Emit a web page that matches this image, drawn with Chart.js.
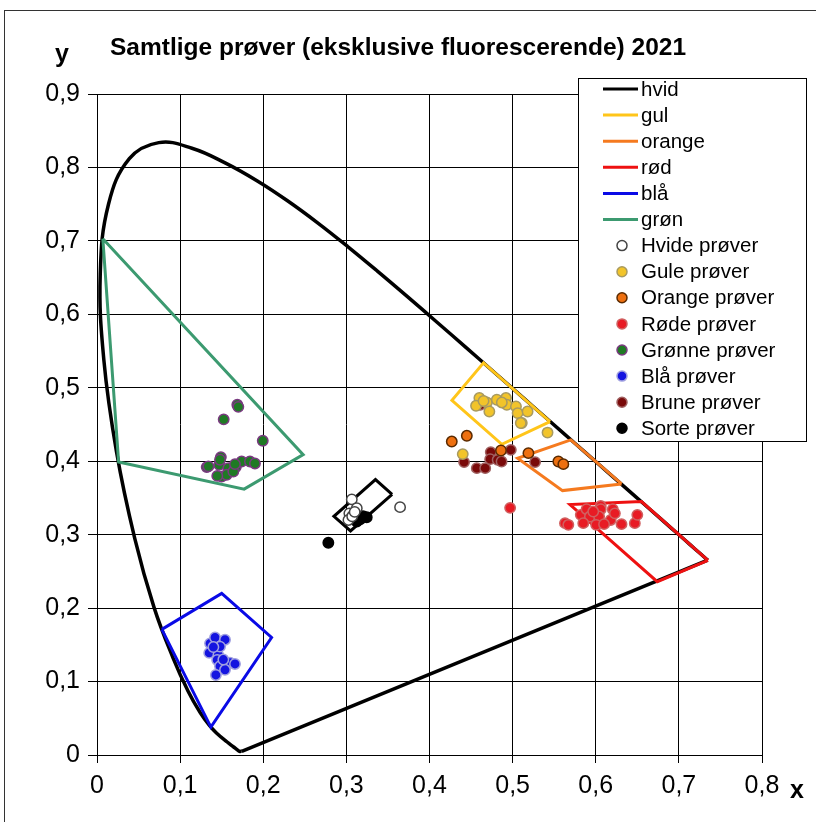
<!DOCTYPE html>
<html><head><meta charset="utf-8">
<script src="https://cdn.jsdelivr.net/npm/chart.js@4.4.1/dist/chart.umd.min.js"></script>
<style>html,body{margin:0;padding:0;background:#fff}#wrap{width:816px;height:822px;position:relative}</style>
</head><body><div id="wrap"><canvas id="c" width="816" height="822"></canvas></div>
<script>
// ---- tick values / labels ----
const xTickValues = [0, 0.1, 0.2, 0.3, 0.4, 0.5, 0.6, 0.7, 0.8];
const xTickLabels = ['0', '0,1', '0,2', '0,3', '0,4', '0,5', '0,6', '0,7', '0,8'];
const yTickValues = [0, 0.1, 0.2, 0.3, 0.4, 0.5, 0.6, 0.7, 0.8, 0.9];
const yTickLabels = ['0', '0,1', '0,2', '0,3', '0,4', '0,5', '0,6', '0,7', '0,8', '0,9'];
const titleText = 'Samtlige prøver (eksklusive fluorescerende) 2021';

// ---- spectral locus (CIE 1931) ----
const locus = [[0.1741,0.0050],[0.1714,0.0051],[0.1689,0.0069],[0.1644,0.0109],[0.1566,0.0177],[0.1440,0.0297],
  [0.1355,0.0399],[0.1241,0.0578],[0.1096,0.0868],[0.0913,0.1327],[0.0687,0.2007],[0.0454,0.2950],[0.0235,0.4127],
  [0.0082,0.5384],[0.0039,0.6548],[0.0139,0.7502],[0.0389,0.8120],[0.0743,0.8338],[0.1142,0.8262],[0.1547,0.8059],
  [0.1929,0.7816],[0.2296,0.7543],[0.2658,0.7243],[0.3016,0.6923],[0.3373,0.6589],[0.3731,0.6245],[0.4087,0.5896],
  [0.4441,0.5547],[0.4788,0.5202],[0.5125,0.4866],[0.5448,0.4544],[0.5752,0.4242],[0.6029,0.3965],[0.6270,0.3725],
  [0.6482,0.3514],[0.6658,0.3340],[0.6915,0.3083],[0.7079,0.2920],[0.7190,0.2809],[0.7260,0.2740],[0.7334,0.2666],
  [0.7347,0.2653]];
const purpleLine = [[0.7347,0.2653],[0.1741,0.0050]];

// ---- colour regions ----
const hvid   = [[0.355,0.355],[0.305,0.305],[0.285,0.325],[0.335,0.375],[0.355,0.355]];
const gul    = [[0.545,0.454],[0.487,0.423],[0.427,0.483],[0.465,0.534],[0.545,0.454]];
const orange = [[0.631,0.369],[0.560,0.360],[0.506,0.404],[0.570,0.429],[0.631,0.369]];
const rod    = [[0.735,0.265],[0.674,0.236],[0.569,0.341],[0.655,0.345],[0.735,0.265]];
const bla    = [[0.078,0.171],[0.150,0.220],[0.210,0.160],[0.137,0.038],[0.078,0.171]];
const gron   = [[0.007,0.703],[0.248,0.409],[0.177,0.362],[0.026,0.399],[0.007,0.703]];

// ---- samples ----
const hvideProver = [[0.3065,0.348],[0.3125,0.336],[0.3036,0.329],[0.3025,0.320],[0.307,0.325],[0.310,0.331],[0.3646,0.3375]];
const guleProver = [[0.460,0.486],[0.456,0.4755],[0.469,0.480],[0.472,0.4677],[0.481,0.4837],[0.492,0.486],[0.493,0.4768],
  [0.504,0.4745],[0.506,0.4655],[0.518,0.4677],[0.511,0.452],[0.542,0.439],[0.440,0.4097],[0.465,0.482],[0.487,0.480],[0.5098,0.452]];
const orangeProver = [[0.4268,0.4268],[0.4449,0.4346],[0.486,0.4146],[0.519,0.411],[0.555,0.3996],[0.561,0.396]];
const rodeProver = [[0.563,0.3157],[0.567,0.3134],[0.582,0.327],[0.589,0.3347],[0.606,0.339],[0.606,0.3347],[0.6205,0.3347],
  [0.593,0.3247],[0.604,0.3247],[0.618,0.320],[0.585,0.3157],[0.6005,0.3134],[0.610,0.3143],[0.631,0.3143],[0.647,0.3157],
  [0.650,0.327],[0.623,0.329],[0.597,0.3315],[0.497,0.3365]];
const gronneProver = [[0.1688,0.4768],[0.1700,0.4740],[0.1524,0.457],[0.1994,0.4278],[0.149,0.4056],[0.132,0.392],[0.134,0.393],
  [0.147,0.395],[0.158,0.3906],[0.167,0.392],[0.174,0.3996],[0.184,0.3996],[0.190,0.397],[0.150,0.379],[0.156,0.3815],
  [0.1447,0.380],[0.164,0.386],[0.148,0.402],[0.166,0.396]];
const blaProver = [[0.136,0.152],[0.142,0.160],[0.154,0.157],[0.135,0.139],[0.146,0.136],[0.1446,0.1294],[0.160,0.1257],
  [0.148,0.121],[0.143,0.109],[0.154,0.116],[0.166,0.124],[0.148,0.1476],[0.140,0.147],[0.152,0.130]];
const bruneProver = [[0.461,0.4768],[0.4416,0.3988],[0.4569,0.3906],[0.467,0.3906],[0.4737,0.4124],[0.473,0.4028],
  [0.482,0.4019],[0.4867,0.3996],[0.4978,0.4155],[0.527,0.3988]];
const sorteProver = [[0.2783,0.289],[0.3245,0.3238],[0.3165,0.321],[0.3125,0.318],[0.320,0.325]];

const pts = a => a.map(p => ({x: p[0], y: p[1]}));
const FONT = '"Liberation Sans", Arial, sans-serif';

function lineDS(label, data, color, order) {
  return {label, data: pts(data), showLine: true, borderColor: color, backgroundColor: color, borderWidth: 3,
    pointRadius: 0, pointHoverRadius: 0, fill: false, tension: 0, order, isLine: true};
}
function ptDS(label, data, fillC, edge) {
  return {label, data: pts(data), showLine: false, backgroundColor: fillC, borderColor: edge, borderWidth: 1.5,
    pointRadius: 5.2, pointBorderWidth: 1.5, order: 0};
}

const datasets = [
  lineDS('hvid', hvid, '#000000', 1),
  lineDS('gul', gul, '#FFC51A', 1),
  lineDS('orange', orange, '#F57A1F', 1),
  lineDS('rød', rod, '#EE1111', 1),
  lineDS('blå', bla, '#0A0AE6', 1),
  lineDS('grøn', gron, '#3C9A70', 1),
  ptDS('Hvide prøver', hvideProver, '#FFFFFF', '#444444'),
  ptDS('Gule prøver', guleProver, '#F2C42A', '#A89A60'),
  ptDS('Orange prøver', orangeProver, '#EE7010', '#5A2A00'),
  ptDS('Røde prøver', rodeProver, '#E81B24', '#D06060'),
  ptDS('Grønne prøver', gronneProver, '#1F7A24', '#7A3A80'),
  ptDS('Blå prøver', blaProver, '#1414E0', '#A0A0E0'),
  ptDS('Brune prøver', bruneProver, '#7A0A0A', '#A06060'),
  ptDS('Sorte prøver', sorteProver, '#000000', '#000000'),
  Object.assign(lineDS('', locus, '#000000', 2), {borderWidth: 3.5, tension: 0.4, isLocus: true}),
  Object.assign(lineDS('', purpleLine, '#000000', 2), {borderWidth: 3.5, isLocus: true})
];

const decor = {
  id: 'decor',
  afterDraw(chart) {
    const ctx = chart.ctx;
    ctx.save();
    // outer frame
    ctx.strokeStyle = '#333'; ctx.lineWidth = 1;
    ctx.strokeRect(4.5, 10.5, 816, 816);
    // title and axis letters
    ctx.fillStyle = '#000';
    ctx.textBaseline = 'middle';
    ctx.textAlign = 'left';
    ctx.font = 'bold 24.5px ' + FONT;
    ctx.fillText(titleText, 110, 48);
    ctx.font = 'bold 25px ' + FONT;
    ctx.fillText('y', 55, 55);
    ctx.fillText('x', 790, 791);
    // legend
    const L = {x: 578.5, y: 78.5, w: 228, h: 363};
    ctx.fillStyle = '#fff';
    ctx.fillRect(L.x, L.y, L.w, L.h);
    ctx.strokeStyle = '#000'; ctx.lineWidth = 1;
    ctx.strokeRect(L.x, L.y, L.w, L.h);
    ctx.font = '20.5px ' + FONT;
    let row = 0;
    chart.data.datasets.forEach(ds => {
      if (!ds.label) return;
      const cy = 89 + row * 26.1;
      if (ds.isLine) {
        ctx.strokeStyle = ds.borderColor; ctx.lineWidth = 3;
        ctx.beginPath(); ctx.moveTo(603, cy); ctx.lineTo(638, cy); ctx.stroke();
      } else {
        ctx.beginPath(); ctx.arc(622, cy, 5, 0, Math.PI * 2);
        ctx.fillStyle = ds.backgroundColor; ctx.fill();
        ctx.strokeStyle = ds.borderColor; ctx.lineWidth = 1.5; ctx.stroke();
      }
      ctx.fillStyle = '#000';
      ctx.fillText(ds.label, 641, cy + 1);
      row++;
    });
    ctx.restore();
  }
};

new Chart(document.getElementById('c'), {
  type: 'scatter',
  data: {datasets},
  options: {
    responsive: false, animation: false, devicePixelRatio: 1,
    layout: {padding: {left: 0, right: 54, top: 94, bottom: 16}},
    plugins: {legend: {display: false}, title: {display: false}, tooltip: {enabled: false}},
    scales: {
      x: {
        type: 'linear', min: 0, max: 0.8,
        afterBuildTicks: s => { s.ticks = xTickValues.map(v => ({value: v})); },
        afterFit: s => { s.height = 51; },
        ticks: {callback: (v, i) => xTickLabels[i], color: '#000', font: {family: FONT, size: 25}, padding: 8, maxRotation: 0, autoSkip: false},
        grid: {color: '#000', lineWidth: 1, tickLength: 8, drawTicks: true},
        border: {color: '#000', width: 1}
      },
      y: {
        type: 'linear', min: 0, max: 0.9,
        afterBuildTicks: s => { s.ticks = yTickValues.map(v => ({value: v})); },
        afterFit: s => { s.width = 97; },
        ticks: {callback: (v, i) => yTickLabels[i], color: '#000', font: {family: FONT, size: 25}, padding: 8, autoSkip: false},
        grid: {color: '#000', lineWidth: 1, tickLength: 9, drawTicks: true},
        border: {color: '#000', width: 1}
      }
    }
  },
  plugins: [decor]
});
</script>
</body></html>
